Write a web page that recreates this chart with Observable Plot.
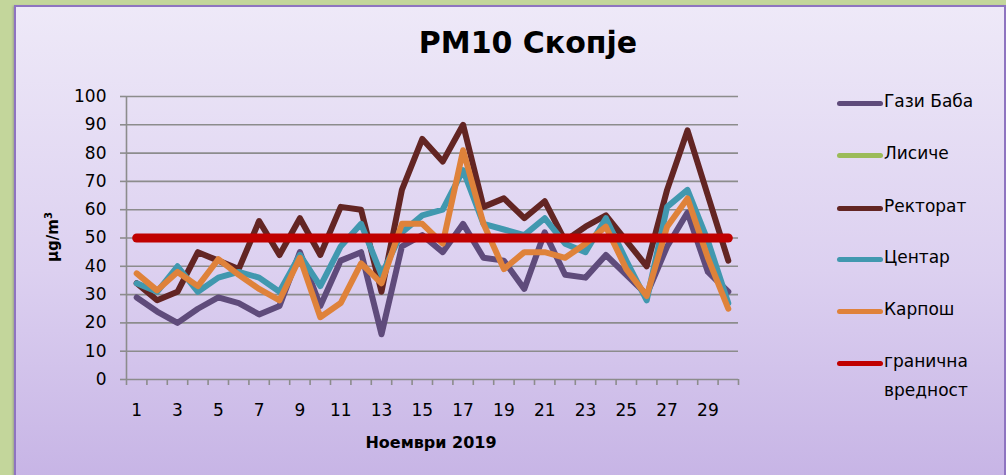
<!DOCTYPE html>
<html>
<head>
<meta charset="utf-8">
<script src="https://cdn.jsdelivr.net/npm/d3@7"></script>
<script src="https://cdn.jsdelivr.net/npm/@observablehq/plot@0.6"></script>
<style>
  html, body { margin: 0; padding: 0; }
  body { width: 1006px; height: 475px; background: #C3D69B; position: relative; overflow: hidden; font-family: "DejaVu Sans", sans-serif; }
  #panel { position: absolute; left: 14px; top: 5px; width: 988px; height: 480px; border: 2px solid #8E74C0;
           background: linear-gradient(to bottom, #EEE9F8 0%, #DCD0F0 55%, #C6B3E5 100%); box-shadow: -1px 1px 2px rgba(80,60,120,0.35); }
  #chart { position: absolute; left: 0; top: 0; }
  .title { position: absolute; left: 528px; top: 42px; transform: translate(-50%, -50%); font-size: 30px; font-weight: bold; white-space: nowrap; }
  .ylab { position: absolute; left: 52px; top: 237px; transform: translate(-50%, -50%) rotate(-90deg); font-size: 15px; font-weight: bold; white-space: nowrap; }
  .ylab sup { font-size: 10px; }
  .xlab { position: absolute; left: 431px; top: 442px; transform: translate(-50%, -50%); font-size: 16px; font-weight: bold; white-space: nowrap; }
  .leg { position: absolute; left: 837px; font-size: 17px; white-space: nowrap; }
  .leg .sw { position: absolute; left: 0; top: -2.5px; width: 46px; height: 5px; border-radius: 3px; }
  .leg .tx { position: absolute; left: 47px; top: 0; transform: translateY(-55%); line-height: 29px; }
</style>
</head>
<body>
<div id="panel"></div>
<div id="chart"></div>
<div class="title">PM10 Скопје</div>
<div class="ylab">μg/m<sup>3</sup></div>
<div class="xlab">Ноември 2019</div>
<div id="legend"></div>
<script>
const days = [1,2,3,4,5,6,7,8,9,10,11,12,13,14,15,16,17,18,19,20,21,22,23,24,25,26,27,28,29,30];
const xTickLabels = [1,3,5,7,9,11,13,15,17,19,21,23,25,27,29];
const yTicks = [0,10,20,30,40,50,60,70,80,90,100];

const gaziBaba = [29,24,20,25,29,27,23,26,45,26,42,45,16,47,51,45,55,43,42,32,52,37,36,44,37,30,47,59,38,31];
const lisice   = [];
const rektorat = [34,28,31,45,42,39,56,44,57,44,61,60,31,67,85,77,90,61,64,57,63,49,54,58,49,40,67,88,65,42];
const centar   = [34,31,40,31,36,38,36,31,44,33,47,55,37,52,58,60,74,55,53,51,57,48,45,57,42,28,61,67,49,27];
const karpos   = [37.5,31.5,38,33,42.5,37,32,28,43,22,27,41,34,55,55,48,81,55,39,45,45,43,48,54,39,29.5,54,64,43,25];
const limitValue = 50;

const seriesNames  = ["Гази Баба", "Лисиче", "Ректорат", "Центар", "Карпош"];
const seriesColors = ["#5F4B7B", "#9BBB59", "#632523", "#4198AF", "#DF823A"];
const limitName = "гранична вредност";
const limitColor = "#C00000";

const seriesValues = [gaziBaba, lisice, rektorat, centar, karpos];
const rows = [];
seriesValues.forEach((vals, i) => vals.forEach((v, j) => rows.push({day: days[j], value: v, series: seriesNames[i]})));
const limitRows = days.map(d => ({day: d, value: limitValue}));
const xEdges = days.map(d => d - 0.5).concat([days[days.length - 1] + 0.5]);

const grid = "#8C8C8C";
const chart = Plot.plot({
  width: 1006, height: 475,
  marginLeft: 126, marginRight: 268, marginTop: 96, marginBottom: 96,
  style: {background: "transparent", fontFamily: "DejaVu Sans, sans-serif", color: "#000", overflow: "visible"},
  x: {domain: [0.5, 30.5]},
  y: {domain: [0, 100]},
  color: {domain: seriesNames, range: seriesColors},
  marks: [
    Plot.gridY(yTicks, {stroke: grid, strokeOpacity: 1, strokeWidth: 1.6}),
    Plot.ruleX([0.5], {stroke: grid, strokeWidth: 1.6}),
    Plot.axisY(yTicks, {tickSize: 6, tickPadding: 14, fontSize: 17, stroke: grid, strokeWidth: 1.6, label: null, tickFormat: d => String(d)}),
    Plot.axisX(xEdges, {tickSize: 6, tickFormat: () => "", stroke: grid, strokeWidth: 1.6, label: null}),
    Plot.axisX(xTickLabels, {tickSize: 0, tickPadding: 24, fontSize: 17, label: null, tickFormat: d => String(d)}),
    Plot.line(rows, {x: "day", y: "value", z: "series", stroke: "series", strokeWidth: 6, strokeLinejoin: "round", strokeLinecap: "round"}),
    Plot.line(limitRows, {x: "day", y: "value", stroke: limitColor, strokeWidth: 9, strokeLinecap: "round"})
  ]
});
document.getElementById("chart").appendChild(chart);

const legendY = [103, 155, 208, 259, 311, 363];
const legendItems = seriesNames.map((n, i) => ({name: n, color: seriesColors[i]})).concat([{name: limitName, color: limitColor}]);
const leg = document.getElementById("legend");
legendItems.forEach((it, i) => {
  const d = document.createElement("div");
  d.className = "leg";
  d.style.top = legendY[i] + "px";
  const sw = document.createElement("div");
  sw.className = "sw"; sw.style.background = it.color;
  const tx = document.createElement("div");
  tx.className = "tx";
  if (it.name === limitName) { tx.innerHTML = "гранична<br>вредност"; tx.style.transform = "translateY(-27%)"; }
  else tx.textContent = it.name;
  d.appendChild(sw); d.appendChild(tx);
  leg.appendChild(d);
});
</script>
</body>
</html>
